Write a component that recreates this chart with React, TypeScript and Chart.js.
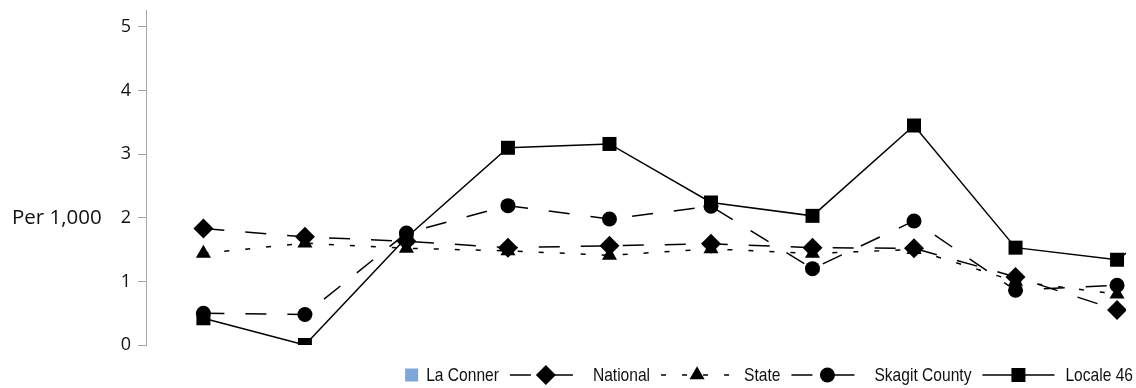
import React, { useEffect, useRef } from 'react';
import { Chart, registerables } from 'chart.js';

Chart.register(...registerables);

// Periods (no x labels are shown in the reference)
const periods: string[] = ['P1', 'P2', 'P3', 'P4', 'P5', 'P6', 'P7', 'P8', 'P9', 'P10', 'P11'];

const laConner: (number | null)[] = [null, null, null, null, null, null, null, null, null, null, null];
const national: (number | null)[] = [1.83, 1.70, 1.63, 1.53, 1.56, 1.59, 1.53, 1.52, 1.07, 0.55, null];
const state: (number | null)[] = [1.44, 1.60, 1.52, 1.48, 1.41, 1.51, 1.44, 1.50, 1.0, 0.8, null];
const skagit: (number | null)[] = [0.50, 0.48, 1.76, 2.19, 1.98, 2.18, 1.20, 1.95, 0.86, 0.94, null];
const locale46: (number | null)[] = [0.42, 0.0, 1.69, 3.10, 3.16, 2.24, 2.03, 3.45, 1.53, 1.34, 2.5];

const yTicks: number[] = [0, 1, 2, 3, 4, 5];
const yTitle = 'Per 1,000';

const LEGEND_FONT = '19px "Liberation Sans", Arial, sans-serif';
const LEGEND_SQUEEZE = 0.82;
const TICK_FONT_FAMILY = '"Open Sans", sans-serif';

function toPoints(arr: (number | null)[]) {
  return arr.map((v, i) => ({ x: i, y: v }));
}

function drawMarker(ctx: CanvasRenderingContext2D, style: string, x: number, y: number, r: number) {
  ctx.beginPath();
  if (style === 'rectRot') {
    ctx.moveTo(x - r, y);
    ctx.lineTo(x, y - r);
    ctx.lineTo(x + r, y);
    ctx.lineTo(x, y + r);
    ctx.closePath();
  } else if (style === 'triangle') {
    for (let k = 0; k < 3; k++) {
      const a = (k * 2 * Math.PI) / 3;
      const px = x + Math.sin(a) * r;
      const py = y - Math.cos(a) * r;
      if (k === 0) ctx.moveTo(px, py);
      else ctx.lineTo(px, py);
    }
    ctx.closePath();
  } else if (style === 'circle') {
    ctx.arc(x, y, r, 0, Math.PI * 2);
  } else {
    const s = r * Math.SQRT1_2;
    ctx.rect(x - s, y - s, 2 * s, 2 * s);
  }
  ctx.fill();
}

function drawSqueezedText(ctx: CanvasRenderingContext2D, text: string, x: number, y: number) {
  ctx.save();
  ctx.translate(x, y);
  ctx.scale(LEGEND_SQUEEZE, 1);
  ctx.fillText(text, 0, 0);
  ctx.restore();
}

const titlePlugin = {
  id: 'horizontalYTitle',
  afterDraw(chart: any) {
    const ctx = chart.ctx as CanvasRenderingContext2D;
    ctx.save();
    ctx.font = '20.5px ' + TICK_FONT_FAMILY;
    ctx.fillStyle = '#111';
    ctx.textAlign = 'left';
    ctx.textBaseline = 'middle';
    const yScale = chart.scales.y;
    ctx.fillText(yTitle, 12, yScale.getPixelForValue(2));
    ctx.restore();
  },
};

const legendPlugin = {
  id: 'lineMarkerLegend',
  afterDraw(chart: any) {
    const ctx = chart.ctx as CanvasRenderingContext2D;
    const datasets = chart.data.datasets as any[];
    const symW = 72;
    const symGap = 11;
    const boxSize = 13;
    const boxGap = 8;
    const itemSep = 11;
    const rightEdge = 1133;
    const cy = 375;
    ctx.save();
    ctx.font = LEGEND_FONT;
    const widths = datasets.map((ds) => {
      const tw = ctx.measureText(ds.label).width * LEGEND_SQUEEZE;
      return ds.type === 'bar' ? boxSize + boxGap + tw : symW + symGap + tw;
    });
    const total = widths.reduce((a, b) => a + b, 0) + itemSep * (datasets.length - 1);
    let x = rightEdge - total;
    ctx.textAlign = 'left';
    ctx.textBaseline = 'middle';
    datasets.forEach((ds, i) => {
      if (ds.type === 'bar') {
        ctx.fillStyle = ds.backgroundColor;
        ctx.fillRect(x, cy - boxSize / 2, boxSize, boxSize);
        ctx.fillStyle = '#111';
        drawSqueezedText(ctx, ds.label, x + boxSize + boxGap, cy + 1);
      } else {
        ctx.strokeStyle = ds.borderColor;
        ctx.lineWidth = ds.borderWidth;
        ctx.setLineDash(ds.borderDash || []);
        ctx.beginPath();
        ctx.moveTo(x, cy);
        ctx.lineTo(x + symW, cy);
        ctx.stroke();
        ctx.setLineDash([]);
        ctx.fillStyle = ds.pointBackgroundColor;
        drawMarker(ctx, ds.pointStyle, x + symW / 2, cy, ds.pointRadius);
        ctx.fillStyle = '#111';
        drawSqueezedText(ctx, ds.label, x + symW + symGap, cy + 1);
      }
      x += widths[i] + itemSep;
    });
    ctx.restore();
  },
};

export default function App() {
  const canvasRef = useRef<HTMLCanvasElement | null>(null);

  useEffect(() => {
    if (!canvasRef.current) return;
    const lineBase = {
      type: 'line' as const,
      borderColor: '#000',
      borderWidth: 1.5,
      pointBackgroundColor: '#000',
      pointBorderColor: '#000',
      pointBorderWidth: 0,
      pointHoverRadius: 0,
      tension: 0,
      spanGaps: false,
    };
    const chart = new Chart(canvasRef.current, {
      type: 'line',
      data: {
        labels: periods,
        datasets: [
          {
            type: 'bar',
            label: 'La Conner',
            data: toPoints(laConner),
            backgroundColor: '#7ea6d8',
          } as any,
          {
            ...lineBase,
            label: 'National',
            data: toPoints(national),
            borderDash: [21, 21],
            pointStyle: 'rectRot',
            pointRadius: 10,
          },
          {
            ...lineBase,
            label: 'State',
            data: toPoints(state),
            borderDash: [5, 16],
            pointStyle: 'triangle',
            pointRadius: 8.7,
          },
          {
            ...lineBase,
            label: 'Skagit County',
            data: toPoints(skagit),
            borderDash: [21, 21],
            pointStyle: 'circle',
            pointRadius: 7.5,
          },
          {
            ...lineBase,
            label: 'Locale 46',
            data: toPoints(locale46),
            borderDash: [],
            pointStyle: 'rect',
            pointRadius: 9.9,
          },
        ],
      },
      options: {
        animation: false,
        responsive: true,
        maintainAspectRatio: false,
        layout: { padding: { top: 8, bottom: 43, left: 0, right: 0 } },
        plugins: {
          legend: { display: false },
          tooltip: { enabled: false },
          title: { display: false },
        },
        scales: {
          x: {
            type: 'linear',
            display: false,
            offset: false,
            grace: 0,
            min: (146 - 204) / 102.55,
            max: (1136 - 204) / 102.55,
          },
          y: {
            type: 'linear',
            min: 0,
            max: 337 / 64,
            afterFit: (s: any) => {
              s.width = 146;
              s.paddingTop = 0;
              s.paddingBottom = 0;
            },
            afterBuildTicks: (s: any) => {
              s.ticks = yTicks.map((v) => ({ value: v }));
            },
            border: { display: true, color: '#a6a6a6', width: 1 },
            grid: {
              display: true,
              drawOnChartArea: false,
              drawTicks: true,
              tickLength: 8,
              color: '#a6a6a6',
            },
            ticks: {
              padding: 7,
              color: '#111',
              font: { family: TICK_FONT_FAMILY, size: 18 },
            },
          },
        },
      },
      plugins: [titlePlugin, legendPlugin],
    });
    return () => chart.destroy();
  }, []);

  return (
    <div style={{ position: 'absolute', left: 0, top: 0, width: 1136, height: 388 }}>
      <canvas ref={canvasRef} />
    </div>
  );
}
